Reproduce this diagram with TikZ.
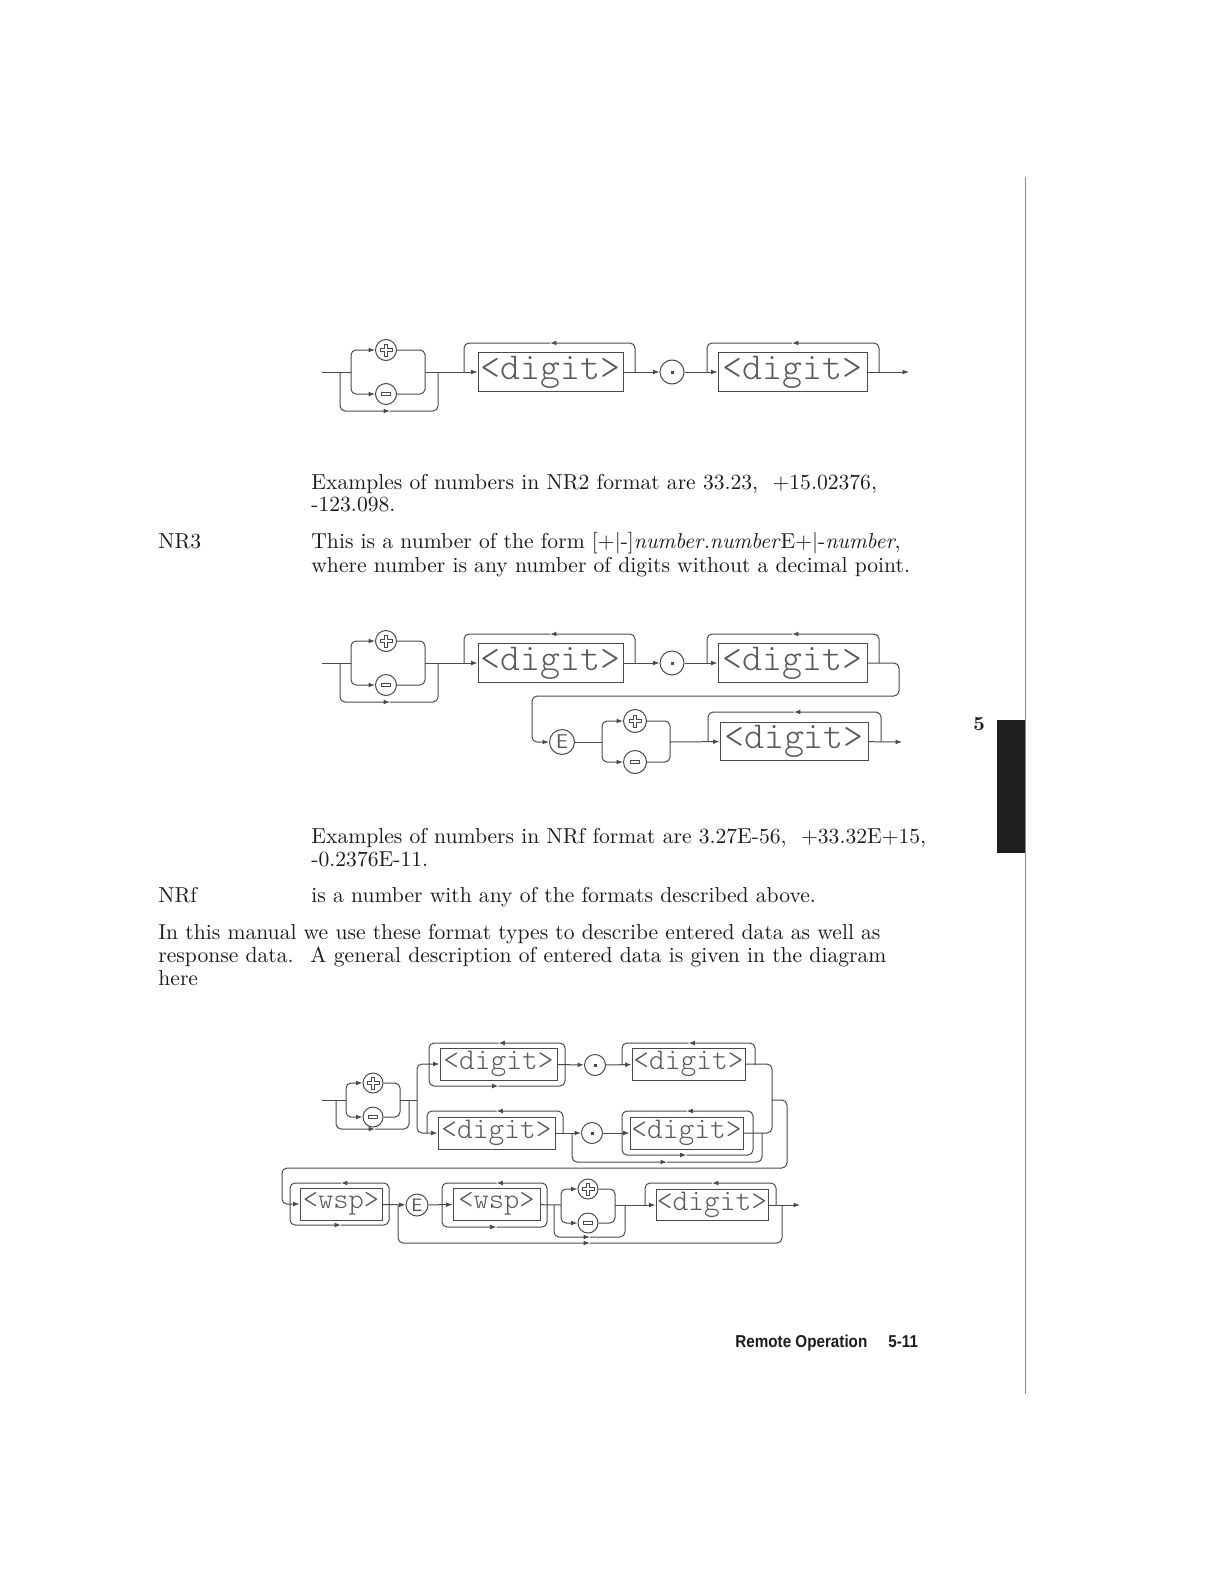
\documentclass[tikz,border=0pt]{standalone}
\usepackage{graphicx}
\usepackage{fontspec}
\usepackage{tikz}
\usetikzlibrary{arrows.meta}
\newfontfamily\footfont{Liberation Sans}
\definecolor{cLine}{HTML}{4A4A4A}
\definecolor{cPlot}{HTML}{5A5A5A}
\definecolor{cInk}{HTML}{1C1C1C}
\newcommand{\plotfnt}[1]{\fontsize{#1}{#1}\ttfamily\fontseries{l}\selectfont\color{cPlot}}
\tikzset{
  ln/.style={draw=cLine, line width=0.5pt, rounded corners=2.5pt},
  fwd/.style={-{Latex[length=3.2pt,width=2.4pt]}},
  glyph/.style={draw=cLine, line width=0.45pt},
  sgn/.style={circle, draw=cLine, line width=0.5pt, inner sep=0pt, minimum size=#1},
  sgn/.default=10pt,
  dbox/.style 2 args={draw=cLine, line width=0.5pt, inner sep=0pt,
      minimum width=#1, minimum height=#2},
  txt/.style={anchor=base west, inner sep=0pt, text=cInk, font=\fontsize{10.8}{13}\selectfont},
}
% hollow glyphs inside the sign circles
\newcommand{\plusat}[1]{\draw[glyph, shift={(#1.center)}]
  (-1.5,-6) -- (1.5,-6) -- (1.5,-1.5) -- (6,-1.5) -- (6,1.5) -- (1.5,1.5)
  -- (1.5,6) -- (-1.5,6) -- (-1.5,1.5) -- (-6,1.5) -- (-6,-1.5) -- (-1.5,-1.5) -- cycle;}
\newcommand{\minusat}[1]{\draw[glyph, shift={(#1.center)}] (-4.5,-1.7) rectangle (4.5,1.7);}
\newcommand{\dotat}[1]{\fill[cLine, shift={(#1.center)}] (-1.5,-1.5) rectangle (1.5,1.5);}
% optional sign, digits, point, digits (one row, main line at y=0)
\newcommand{\signdigits}{%
  \coordinate (in) at (322,0);
  \coordinate (b1) at (340,0);
  \coordinate (c1) at (351,0);
  \coordinate (c2) at (425,0);
  \coordinate (b2) at (438,0);
  \node[sgn=10.5pt] (p) at (386,-22) {};
  \node[sgn=10.5pt] (m) at (386,22) {};
  \plusat{p}
  \minusat{m}
  \node[dbox={72.5pt}{19.5pt}, font=\plotfnt{19}] (d1) at (550.5,0) {<digit>};
  \node[sgn=12pt] (pt) at (672,0) {};
  \dotat{pt}
  \node[dbox={74.5pt}{19.5pt}, font=\plotfnt{19}] (d2) at (792.5,0) {<digit>};
  \draw[ln] (in) -- (c1);
  \draw[ln, fwd] (c1) |- (p);
  \draw[ln, fwd] (c1) |- (m);
  \draw[ln] (p) -| (c2);
  \draw[ln] (m) -| (c2);
  \draw[ln, fwd] (b1) |- (390,39);
  \draw[ln] (390,39) -| (b2);
  \draw[ln, fwd] (c2) -- (d1);
  \draw[ln, fwd] (635,0) |- (550,-29);
  \draw[ln] (550,-29) -| (464,0);
  \draw[ln, fwd] (d1) -- (pt);
  \draw[ln, fwd] (pt) -- (d2);
  \draw[ln, fwd] (879,0) |- (792,-29);
  \draw[ln] (792,-29) -| (707,0);
}

\begin{document}
\begin{tikzpicture}[x=0.5pt, y=-0.5pt]
  \useasboundingbox[fill=white] (0,0) rectangle (1224,1584);

  % NR2 diagram
  \begin{scope}[shift={(0,372)}, name prefix=a-]
    \signdigits
    \coordinate (out) at (909,0);
    \draw[ln, fwd] (d2) -- (out);
  \end{scope}

  \node[txt] (t1) at (311,489) {Examples of numbers in NR2 format are 33.23, \ +15.02376,};
  \node[txt] (t2) at (311,511) {-123.098.};
  \node[txt] (nr3) at (158,548) {NR3};
  \node[txt] (t3) at (311,548) {This is a number of the form [+|-]\textit{number.number}E+|-\textit{number},};
  \node[txt] (t4) at (311,572) {where number is any number of digits without a decimal point.};

  % NR3 diagram
  \begin{scope}[shift={(0,663)}, name prefix=b-]
    \signdigits
  \end{scope}
  \node[sgn=12.5pt, font=\sffamily\fontsize{10}{10}\selectfont, text=cPlot] (e1) at (562,742) {E};
  \coordinate (bc1) at (602,742);
  \coordinate (bc2) at (670,742);
  \node[sgn=11.5pt] (bp) at (635,721) {};
  \node[sgn=11.5pt] (bm) at (635,762) {};
  \plusat{bp}
  \minusat{bm}
  \node[dbox={74pt}{19pt}, font=\plotfnt{19}] (bd3) at (794,741) {<digit>};
  \coordinate (bout) at (902,742);
  \draw[ln, fwd] (b-d2) -| (899,696) -- (532,696) |- (e1);
  \draw[ln] (e1) -- (bc1);
  \draw[ln, fwd] (bc1) |- (bp);
  \draw[ln, fwd] (bc1) |- (bm);
  \draw[ln] (bp) -| (bc2);
  \draw[ln] (bm) -| (bc2);
  \draw[ln, fwd] (bc2) -- (bd3);
  \draw[ln, fwd] (881,742) |- (794,712);
  \draw[ln] (794,712) -| (708,742);
  \draw[ln, fwd] (bd3) -- (bout);

  \node[txt] (t5) at (311,843) {Examples of numbers in NRf format are 3.27E-56, \ +33.32E+15,};
  \node[txt] (t6) at (311,866) {-0.2376E-11.};
  \node[txt] (nrf) at (158,902) {NRf};
  \node[txt] (t7) at (311,902) {is a number with any of the formats described above.};
  \node[txt] (t8) at (158,939) {In this manual we use these format types to describe entered data as well as};
  \node[txt] (t9) at (158,962) {response data. \ A general description of entered data is given in the diagram};
  \node[txt] (t10) at (158,985) {here};

  % general entered-data diagram
  \coordinate (gin) at (322,1100);
  \coordinate (gb1) at (336,1100);
  \coordinate (gc1) at (346,1100);
  \coordinate (gc2) at (400,1100);
  \coordinate (gb2) at (409,1100);
  \coordinate (gs) at (417,1100);
  \node[sgn] (gp) at (373,1083) {};
  \node[sgn] (gm) at (373,1117) {};
  \plusat{gp}
  \minusat{gm}
  \draw[ln] (gin) -- (gc1);
  \draw[ln, fwd] (gc1) |- (gp);
  \draw[ln, fwd] (gc1) |- (gm);
  \draw[ln] (gp) -| (gc2);
  \draw[ln] (gm) -| (gc2);
  \draw[ln, fwd] (gb1) |- (375,1129);
  \draw[ln] (375,1129) -| (gb2);
  \draw[ln] (gc2) -- (gs);

  % upper branch: digits, point, digits
  \node[dbox={58.5pt}{16pt}, font=\plotfnt{15}] (ga1) at (498.5,1064) {<digit>};
  \node[sgn=10.5pt] (gpa) at (595,1065) {};
  \dotat{gpa}
  \node[dbox={56.5pt}{16pt}, font=\plotfnt{15}] (ga2) at (688.5,1064) {<digit>};
  \draw[ln, fwd] (gs) |- (ga1);
  \draw[ln, fwd] (565,1065) |- (498.5,1043);
  \draw[ln] (498.5,1043) -| (429,1065);
  \draw[ln, fwd] (429,1065) |- (498.5,1086);
  \draw[ln] (498.5,1086) -| (565,1065);
  \draw[ln, fwd] (ga1) -- (gpa);
  \draw[ln, fwd] (gpa) -- (ga2);
  \draw[ln, fwd] (755,1065) |- (688.5,1043);
  \draw[ln] (688.5,1043) -| (622,1065);
  \coordinate (gj) at (772,1100);
  \draw[ln] (ga2) -| (gj);

  % lower branch: digits, optional point and digits
  \node[dbox={58.5pt}{16pt}, font=\plotfnt{15}] (gbd1) at (496.5,1133) {<digit>};
  \node[sgn=10.5pt] (gpb) at (592,1133) {};
  \dotat{gpb}
  \node[dbox={56.5pt}{16pt}, font=\plotfnt{15}] (gbd2) at (686.5,1133) {<digit>};
  \draw[ln, fwd] (gs) |- (gbd1);
  \draw[ln, fwd] (563,1133) |- (496.5,1111);
  \draw[ln] (496.5,1111) -| (427,1133);
  \draw[ln, fwd] (gbd1) -- (gpb);
  \draw[ln, fwd] (572,1133) |- (667,1162);
  \draw[ln] (667,1162) -| (762,1133);
  \draw[ln, fwd] (gpb) -- (gbd2);
  \draw[ln, fwd] (753,1133) |- (686.5,1111);
  \draw[ln] (686.5,1111) -| (622,1133);
  \draw[ln, fwd] (622,1133) |- (686.5,1155);
  \draw[ln] (686.5,1155) -| (753,1133);
  \draw[ln] (gbd2) -| (gj);

  % exponent row
  \node[dbox={41pt}{16pt}, font=\plotfnt{14.5}] (gw1) at (341,1204) {<wsp>};
  \node[sgn=11pt, font=\sffamily\fontsize{9}{9}\selectfont, text=cPlot] (ge) at (417,1205) {E};
  \node[dbox={43.5pt}{16pt}, font=\plotfnt{14.5}] (gw2) at (496.5,1204) {<wsp>};
  \coordinate (gxb1) at (554,1205);
  \coordinate (gxc1) at (561,1205);
  \coordinate (gxc2) at (615,1205);
  \coordinate (gxb2) at (625,1205);
  \node[sgn] (gxp) at (588,1189) {};
  \node[sgn] (gxm) at (588,1223) {};
  \plusat{gxp}
  \minusat{gxm}
  \node[dbox={56pt}{15.5pt}, font=\plotfnt{15}] (gc) at (712,1205) {<digit>};
  \coordinate (gout) at (800,1205);
  \draw[ln, fwd] (gj) -| (787,1168) -- (282,1168) |- (gw1);
  \draw[ln, fwd] (389,1205) |- (341,1183);
  \draw[ln] (341,1183) -| (290,1205);
  \draw[ln, fwd] (290,1205) |- (341,1225);
  \draw[ln] (341,1225) -| (389,1205);
  \draw[ln, fwd] (gw1) -- (ge);
  \draw[ln, fwd] (398,1205) |- (590,1243);
  \draw[ln] (590,1243) -| (782,1205);
  \draw[ln, fwd] (ge) -- (gw2);
  \draw[ln, fwd] (547,1205) |- (496.5,1183);
  \draw[ln] (496.5,1183) -| (442,1205);
  \draw[ln, fwd] (442,1205) |- (496.5,1227);
  \draw[ln] (496.5,1227) -| (547,1205);
  \draw[ln] (gw2) -- (gxc1);
  \draw[ln, fwd] (gxc1) |- (gxp);
  \draw[ln, fwd] (gxc1) |- (gxm);
  \draw[ln] (gxp) -| (gxc2);
  \draw[ln] (gxm) -| (gxc2);
  \draw[ln, fwd] (gxb1) |- (590,1237);
  \draw[ln] (590,1237) -| (gxb2);
  \draw[ln, fwd] (gxc2) -- (gc);
  \draw[ln, fwd] (776,1205) |- (712,1183);
  \draw[ln] (712,1183) -| (645,1205);
  \draw[ln, fwd] (gc) -- (gout);

  % page furniture
  \draw[black!45, line width=0.4pt] (1025,177) -- (1025,1394);
  \fill[black!88] (997,720) rectangle (1025,853);
  \node[font=\bfseries\fontsize{10}{10}\selectfont, text=cInk] (tab) at (979,724) {5};
  \node[anchor=base west, inner sep=0pt, text=cInk,
        font=\footfont\bfseries\fontsize{8.6}{10}\selectfont] (foot) at (735,1347)
        {\scalebox{0.885}[1]{Remote Operation}};
  \node[anchor=base west, inner sep=0pt, text=cInk,
        font=\footfont\bfseries\fontsize{8.6}{10}\selectfont] (pg) at (888,1347)
        {\scalebox{0.885}[1]{5-11}};
\end{tikzpicture}
\end{document}
